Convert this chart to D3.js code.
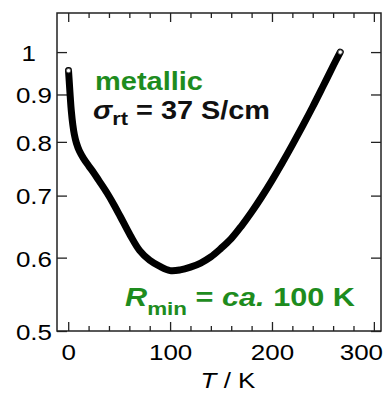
<!DOCTYPE html>
<html>
<head>
<meta charset="utf-8">
<script src="https://cdn.jsdelivr.net/npm/d3@7"></script>
<style>
  html, body { margin: 0; padding: 0; background: #fff; }
  svg { display: block; font-family: "Liberation Sans", Arial, sans-serif; }
</style>
</head>
<body>
<svg id="chart" width="384" height="393"></svg>
<script>
// temperature (K) and normalised resistance
const temps = [0.3, 1, 2, 3, 4.5, 6, 8, 11, 15, 20, 25, 30, 38, 45, 51, 61, 70, 80, 90, 100, 110, 120, 130, 140, 150, 160, 170, 180, 190, 200, 210, 220, 230, 240, 250, 260, 267];
const resist = [0.955, 0.93, 0.895, 0.865, 0.835, 0.815, 0.798, 0.782, 0.768, 0.754, 0.741, 0.727, 0.705, 0.684, 0.665, 0.634, 0.611, 0.596, 0.587, 0.581, 0.582, 0.586, 0.592, 0.601, 0.614, 0.629, 0.649, 0.672, 0.698, 0.727, 0.759, 0.794, 0.832, 0.873, 0.918, 0.966, 1.0];

const xMajor = [0, 100, 200, 300];
const xMinor = [20, 40, 60, 80, 120, 140, 160, 180, 220, 240, 260, 280];
const yTicks = [0.5, 0.6, 0.7, 0.8, 0.9, 1];

const green = '#1e8c1e';
const stretch = 1.18; // the original figure is squeezed wider than tall

const svg = d3.select('#chart');
const mLeft = 57, mRight = 381, mTop = 13, mBottom = 331;

const x = d3.scaleLinear().domain([-11, 307]).range([mLeft, mRight]);
const y = d3.scaleLog().domain([0.5, 1.102]).range([mBottom, mTop]);

function widen(sel) {
  sel.each(function() {
    const w = this.getComputedTextLength();
    d3.select(this).attr('textLength', w * stretch).attr('lengthAdjust', 'spacingAndGlyphs');
  });
}

// bottom axis, ticks pointing in
const bx = svg.append('g').attr('transform', `translate(0,${mBottom})`);
const bxl = bx.append('g')
  .call(d3.axisBottom(x).tickValues(xMajor).tickSize(-9).tickPadding(12).tickFormat(d3.format('d')))
  .call(g => g.select('.domain').remove());
bxl.selectAll('text').style('font-size', '22px').attr('fill', '#000').attr('dy', '0.75em').call(widen);
bxl.selectAll('.tick').filter(d => d === 300).select('text').attr('x', -13);
bx.append('g')
  .call(d3.axisBottom(x).tickValues(xMinor).tickSize(-5).tickFormat(''))
  .call(g => g.select('.domain').remove());

// top axis (mirror ticks)
const tx = svg.append('g').attr('transform', `translate(0,${mTop})`);
tx.append('g')
  .call(d3.axisTop(x).tickValues(xMajor).tickSize(-9).tickFormat(''))
  .call(g => g.select('.domain').remove());
tx.append('g')
  .call(d3.axisTop(x).tickValues(xMinor).tickSize(-5).tickFormat(''))
  .call(g => g.select('.domain').remove());

// left axis
const ly = svg.append('g').attr('transform', `translate(${mLeft},0)`)
  .call(d3.axisLeft(y).tickValues(yTicks).tickSize(-10).tickPadding(5).tickFormat(d => d === 1 ? '1' : d3.format('.1f')(d)))
  .call(g => g.select('.domain').remove());
ly.selectAll('text').style('font-size', '22px').attr('fill', '#000').attr('dy', '0.38em').call(widen);
ly.selectAll('.tick').filter(d => d === 1).select('text').attr('x', -21);

// right axis
svg.append('g').attr('transform', `translate(${mRight},0)`)
  .call(d3.axisRight(y).tickValues(yTicks).tickSize(-10).tickFormat(''))
  .call(g => g.select('.domain').remove());

svg.selectAll('.tick line').attr('stroke', '#222').attr('stroke-width', 1.3);

// frame
svg.append('rect')
  .attr('x', mLeft).attr('y', mTop)
  .attr('width', mRight - mLeft).attr('height', mBottom - mTop)
  .attr('fill', 'none').attr('stroke', '#222').attr('stroke-width', 1.5);

// curve
const pts = temps.map((t, i) => [t, resist[i]]);
const line = d3.line().x(d => x(d[0])).y(d => y(d[1])).curve(d3.curveCatmullRom.alpha(0.5));
svg.append('path')
  .attr('d', line(pts))
  .attr('fill', 'none')
  .attr('stroke', '#000')
  .attr('stroke-width', 7)
  .attr('stroke-linecap', 'round')
  .attr('stroke-linejoin', 'round');

svg.selectAll('.endpt')
  .data([pts[0], pts[pts.length - 1]])
  .enter().append('circle')
  .attr('class', 'endpt')
  .attr('cx', d => x(d[0])).attr('cy', d => y(d[1]))
  .attr('r', 2.2)
  .attr('fill', '#fff').attr('stroke', '#555').attr('stroke-width', 1);

// x axis title
const xt = svg.append('text')
  .attr('x', 228).attr('y', 388)
  .attr('text-anchor', 'middle')
  .style('font-size', '22px');
xt.append('tspan').style('font-style', 'italic').text('T');
xt.append('tspan').text(' / K');
widen(xt);

// annotations
svg.append('text')
  .attr('x', 95).attr('y', 90)
  .style('font-size', '25px').style('font-weight', 'bold')
  .attr('fill', green)
  .attr('textLength', 108).attr('lengthAdjust', 'spacingAndGlyphs')
  .text('metallic');

const sg = svg.append('text')
  .attr('x', 93).attr('y', 119)
  .style('font-size', '25px').style('font-weight', 'bold')
  .attr('fill', '#111')
  .attr('textLength', 177).attr('lengthAdjust', 'spacingAndGlyphs');
sg.append('tspan').style('font-style', 'italic').text('σ');
sg.append('tspan').attr('dy', 6).style('font-size', '19px').text('rt');
sg.append('tspan').attr('dy', -6).text(' = 37 S/cm');

const rm = svg.append('text')
  .attr('x', 125).attr('y', 306)
  .style('font-size', '26px').style('font-weight', 'bold')
  .attr('fill', green)
  .attr('textLength', 230).attr('lengthAdjust', 'spacingAndGlyphs');
rm.append('tspan').style('font-style', 'italic').text('R');
rm.append('tspan').attr('dy', 9).style('font-size', '19px').text('min');
rm.append('tspan').attr('dy', -9).text(' = ');
rm.append('tspan').style('font-style', 'italic').text('ca.');
rm.append('tspan').text(' 100 K');
</script>
</body>
</html>
